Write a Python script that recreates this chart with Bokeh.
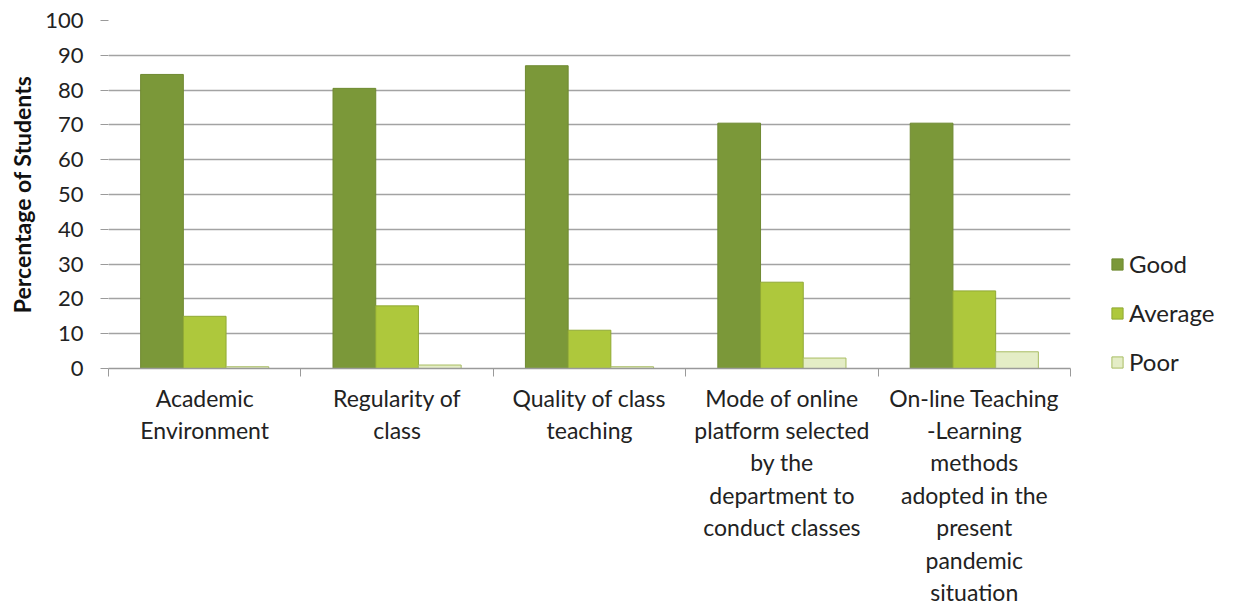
from bokeh.plotting import figure
from bokeh.models import FixedTicker, Legend, LegendItem, Range1d
from bokeh.embed import file_html
from bokeh.resources import INLINE

categories = [
    "Academic\nEnvironment",
    "Regularity of\nclass",
    "Quality of class\nteaching",
    "Mode of online\nplatform selected\nby the\ndepartment to\nconduct classes",
    "On-line Teaching\n-Learning\nmethods\nadopted in the\npresent\npandemic\nsituation",
]
good = [84.5, 80.5, 87, 70.5, 70.5]
average = [15, 18, 11, 24.8, 22.3]
poor = [0.5, 1, 0.5, 3, 4.8]
series_names = ["Good", "Average", "Poor"]
y_ticks = [0, 10, 20, 30, 40, 50, 60, 70, 80, 90, 100]

colors = ["#7b9839", "#aec83c", "#e4edc6"]
edge = ["#6f8a31", "#90a935", "#a9bd63"]
FONT = "Lato"

p = figure(output_backend="svg", toolbar_location=None,
           frame_width=962, frame_height=348,
           x_range=Range1d(0, 5), y_range=Range1d(0, 100),
           min_border_left=108, min_border_top=20, min_border_bottom=0,
           min_border_right=0, outline_line_color=None,
           background_fill_color="white", border_fill_color="white")

n = len(categories)
bw = 0.222
centers = [i + 0.5 for i in range(n)]
renderers = []
for k, vals in enumerate([good, average, poor]):
    xs = [c + (k - 1) * bw for c in centers]
    r = p.vbar(x=xs, top=vals, bottom=0, width=bw, fill_color=colors[k],
               line_color=edge[k], line_width=1)
    renderers.append(r)

# x axis
xa = p.xaxis[0]
xa.ticker = FixedTicker(ticks=centers, minor_ticks=list(range(n + 1)))
xa.major_label_overrides = {c: lab for c, lab in zip(centers, categories)}
xa.major_tick_out = 0
xa.major_tick_in = 0
xa.minor_tick_out = 8
xa.minor_tick_in = 0
xa.minor_tick_line_color = "#9a9a9a"
xa.axis_line_color = "#9a9a9a"
xa.axis_line_width = 1.5
xa.major_label_text_font = FONT
xa.major_label_text_font_size = "23px"
xa.major_label_text_color = "#222222"
xa.major_label_standoff = 7
xa.major_label_text_line_height = 1.16

# y axis
ya = p.yaxis[0]
ya.ticker = FixedTicker(ticks=y_ticks)
ya.minor_tick_line_color = None
ya.major_tick_out = 8
ya.major_tick_in = 0
ya.major_tick_line_color = "#9a9a9a"
ya.axis_line_color = None
ya.major_label_text_font = FONT
ya.major_label_text_font_size = "22px"
ya.major_label_text_color = "#222222"
ya.major_label_standoff = 17
ya.axis_label = "Percentage of Students"
ya.axis_label_text_font = FONT
ya.axis_label_text_font_style = "bold"
ya.axis_label_text_font_size = "23px"
ya.axis_label_text_color = "#111111"
ya.axis_label_standoff = 6

p.xgrid.grid_line_color = None
p.ygrid.grid_line_color = "#a3a3a3"
p.ygrid.grid_line_width = 1.5

legend = Legend(items=[LegendItem(label=nm, renderers=[r]) for nm, r in zip(series_names, renderers)],
                location=(40, -8), orientation="vertical",
                label_text_font=FONT, label_text_font_size="24px", label_text_color="#222222",
                glyph_width=14, glyph_height=14, spacing=20, padding=0, margin=0,
                label_standoff=5, border_line_color=None, background_fill_alpha=0)
p.add_layout(legend, "right")

open("out.html", "w").write(file_html(p, INLINE))
